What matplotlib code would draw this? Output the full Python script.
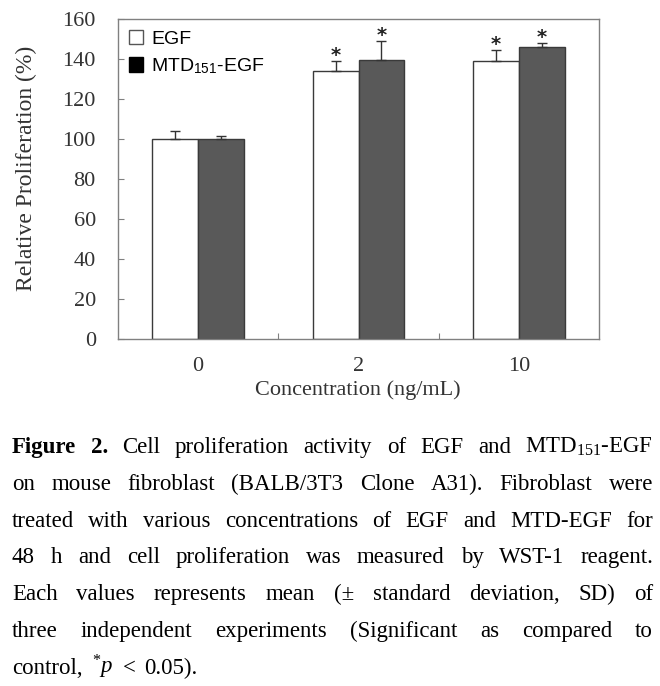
import matplotlib
matplotlib.use("Agg")
import numpy as np
import matplotlib.pyplot as plt
from matplotlib.patches import Patch

concentrations = ['0', '2', '10']
egf_mean = [100, 134.2, 139]
egf_sd = [4.2, 4.8, 5.3]
mtd_mean = [100, 139.5, 146]
mtd_sd = [1.7, 9.7, 2.0]
significant = [False, True, True]
yticks = [0, 20, 40, 60, 80, 100, 120, 140, 160]

caption = [
    "Figure 2. Cell proliferation activity of EGF and MTD$_{151}$-EGF",
    "on mouse fibroblast (BALB/3T3 Clone A31). Fibroblast were",
    "treated with various concentrations of EGF and MTD-EGF for",
    "48 h and cell proliferation was measured by WST-1 reagent.",
    "Each values represents mean (\u00b1 standard deviation, SD) of",
    "three independent experiments (Significant as compared to",
    "control, ${}^{*}p$ < 0.05).",
]

plt.rcParams['mathtext.fontset'] = 'custom'
plt.rcParams['mathtext.rm'] = 'Liberation Serif'
plt.rcParams['mathtext.it'] = 'Liberation Serif:italic'
plt.rcParams['mathtext.sf'] = 'Liberation Sans'

SERIF = 'Liberation Serif'
W, H = 660, 686


def justify(fig, lines, x0, x1, y0, step, size):
    r = fig.canvas.get_renderer()
    for i, line in enumerate(lines):
        words = line.split(' ')
        texts = []
        for j, w in enumerate(words):
            bold = (i == 0 and j < 2)
            texts.append(fig.text(0, 0, w, family=SERIF, size=size,
                                  weight='bold' if bold else 'normal',
                                  ha='left', va='baseline'))
        widths = [t.get_window_extent(r).width for t in texts]
        if i == len(lines) - 1:
            gap = 0.4 * size * 100 / 72
        else:
            gap = (x1 - x0 - sum(widths)) / (len(words) - 1)
        x = x0
        for t, wd in zip(texts, widths):
            t.set_position((x / W, 1 - (y0 + i * step) / H))
            x += wd + gap


def main():
    fig = plt.figure(figsize=(W / 100, H / 100), dpi=100)
    ax = fig.add_axes([118 / W, 1 - 339 / H, 481 / W, 320 / H])

    x = np.arange(len(concentrations))
    w = 0.285
    ax.bar(x - w / 2, egf_mean, w, color='white', edgecolor='#3a3a3a', lw=1)
    ax.bar(x + w / 2, mtd_mean, w, color='#595959', edgecolor='#3a3a3a', lw=1)
    ax.errorbar(x - w / 2, egf_mean, yerr=[np.zeros(3), egf_sd], fmt='none',
                ecolor='#333333', elinewidth=1, capsize=3.5, capthick=1)
    ax.errorbar(x + w / 2, mtd_mean, yerr=[np.zeros(3), mtd_sd], fmt='none',
                ecolor='#333333', elinewidth=1, capsize=3.5, capthick=1)

    for i, sig in enumerate(significant):
        if sig:
            ax.text(x[i] - w / 2, egf_mean[i] + egf_sd[i] - 2, '*',
                    ha='center', va='bottom', size=14, weight='bold',
                    family='DejaVu Sans', color='#222222')
            ax.text(x[i] + w / 2, mtd_mean[i] + mtd_sd[i] - 2, '*',
                    ha='center', va='bottom', size=14, weight='bold',
                    family='DejaVu Sans', color='#222222')

    ax.set_xlim(-0.5, 2.5)
    ax.set_ylim(0, 160)
    ax.set_yticks(yticks)
    ax.set_xticks(x)
    ax.set_xticklabels(concentrations)
    ax.set_xticks([0.5, 1.5], minor=True)
    for lab in ax.get_xticklabels() + ax.get_yticklabels():
        lab.set_family(SERIF)
        lab.set_color('#333333')
    ax.tick_params(axis='y', direction='in', length=4, width=0.8,
                   color='#808080', pad=16, labelsize=16)
    ax.tick_params(axis='x', which='major', length=0, pad=13, labelsize=16)
    ax.tick_params(axis='x', which='minor', direction='in', length=4,
                   width=0.8, color='#808080')
    for s in ax.spines.values():
        s.set_color('#808080')
        s.set_linewidth(1)

    ax.set_xlabel('Concentration (ng/mL)', family=SERIF, size=16, color='#333333')
    ax.xaxis.set_label_coords(0.498, -0.128)
    ax.set_ylabel('Relative Proliferation (%)', family=SERIF, size=17, color='#333333')
    ax.yaxis.set_label_coords(-0.168, 0.534)

    handles = [Patch(facecolor='white', edgecolor='#555555', lw=1),
               Patch(facecolor='black', edgecolor='black', lw=1)]
    ax.legend(handles, ['EGF', r'MTD$_{\mathsf{151}}$-EGF'], loc='upper left',
              frameon=False, prop={'family': 'Liberation Sans', 'size': 14},
              handlelength=0.75, handleheight=0.75, handletextpad=0.4,
              borderaxespad=0.45, borderpad=0.1, labelspacing=0.45)

    justify(fig, caption, 12, 653, 453, 36.8, 16.5)
    fig.savefig('out.png', dpi=100)


if __name__ == '__main__':
    main()
